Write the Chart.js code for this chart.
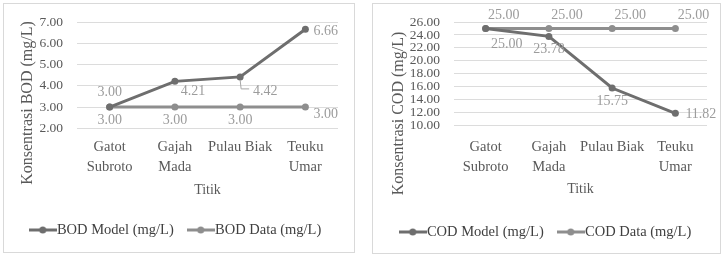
<!DOCTYPE html>
<html>
<head>
<meta charset="utf-8">
<script src="https://cdn.jsdelivr.net/npm/chart.js@4.4.1/dist/chart.umd.min.js"></script>
<style>
  body { margin: 0; background: #fff; width: 724px; height: 257px; position: relative; overflow: hidden; }
  canvas { position: absolute; top: 0; }
  .box { position: absolute; border: 1px solid #d9d9d9; pointer-events: none; }
</style>
</head>
<body>
<canvas id="bod" width="362" height="257" style="left:0"></canvas>
<canvas id="cod" width="362" height="257" style="left:362px"></canvas>
<div class="box" style="left:3px;top:3px;width:350px;height:248px"></div>
<div class="box" style="left:372px;top:3px;width:347px;height:249px"></div>
<script>
// data
const titik = [['Gatot', 'Subroto'], ['Gajah', 'Mada'], 'Pulau Biak', ['Teuku', 'Umar']];
const bodModel = [3.00, 4.21, 4.42, 6.66];
const bodData = [3.00, 3.00, 3.00, 3.00];
const codModel = [25.00, 23.78, 15.75, 11.82];
const codData = [25.00, 25.00, 25.00, 25.00];

// where each value label sits next to its point
const bodModelPos = ['above', 'belowRight', 'leader', 'right'];
const bodDataPos = ['below', 'below', 'below', 'rightLow'];
const codModelPos = ['belowRightFar', 'below', 'below', 'rightFar'];
const codDataPos = ['aboveRight', 'aboveRight', 'aboveRight', 'aboveRight'];

const modelColor = '#6e6e6e';
const dataColor = '#8e8e8e';
const textColor = '#595959';
const serif = '"Liberation Serif", "Times New Roman", serif';

Chart.defaults.font.family = serif;
Chart.defaults.color = textColor;

const place = {
  above: [0, -15, 'center'],
  below: [0, 13, 'center'],
  belowRight: [18, 10, 'center'],
  belowRightFar: [21, 16, 'center'],
  leader: [25, 14, 'center'],
  right: [8, 2, 'left'],
  rightLow: [8, 7, 'left'],
  rightFar: [10, 1, 'left'],
  aboveRight: [18, -13, 'center']
};

const pointLabels = {
  id: 'pointLabels',
  afterDatasetsDraw(chart) {
    const ctx = chart.ctx;
    ctx.save();
    ctx.font = '14px ' + serif;
    ctx.textBaseline = 'middle';
    chart.data.datasets.forEach((ds, i) => {
      chart.getDatasetMeta(i).data.forEach((pt, j) => {
        const [dx, dy, align] = place[ds.labelPos[j]];
        if (ds.labelPos[j] === 'leader') {
          ctx.strokeStyle = '#a6a6a6';
          ctx.lineWidth = 1;
          ctx.beginPath();
          ctx.moveTo(pt.x, pt.y + 3);
          ctx.lineTo(pt.x + 1, pt.y + dy - 2);
          ctx.lineTo(pt.x + 9, pt.y + dy - 2);
          ctx.stroke();
        }
        ctx.fillStyle = '#9c9c9c';
        ctx.textAlign = align;
        ctx.fillText(ds.data[j].toFixed(2), pt.x + dx, pt.y + dy);
      });
    });
    ctx.restore();
  }
};

// Excel-style axis title, centred lower than the plot area
const axisTitle = {
  id: 'axisTitle',
  afterDraw(chart, args, o) {
    const ctx = chart.ctx;
    ctx.save();
    ctx.translate(o.x, o.y);
    ctx.rotate(-Math.PI / 2);
    ctx.font = '16px ' + serif;
    ctx.fillStyle = textColor;
    ctx.textAlign = 'center';
    ctx.textBaseline = 'middle';
    ctx.fillText(o.text, 0, 0);
    ctx.restore();
  }
};

function legendMark(color) {
  const c = document.createElement('canvas');
  c.width = 28;
  c.height = 10;
  const g = c.getContext('2d');
  g.strokeStyle = color;
  g.lineWidth = 3;
  g.beginPath();
  g.moveTo(0, 5);
  g.lineTo(28, 5);
  g.stroke();
  g.fillStyle = color;
  g.beginPath();
  g.arc(14, 5, 3.5, 0, Math.PI * 2);
  g.fill();
  return c;
}

function buildChart(id, names, series, positions, s) {
  const colors = [modelColor, dataColor];
  return new Chart(document.getElementById(id), {
    type: 'line',
    data: {
      labels: titik,
      datasets: series.map((d, i) => ({
        label: names[i],
        data: d,
        labelPos: positions[i],
        borderColor: colors[i],
        backgroundColor: colors[i],
        borderWidth: 3,
        pointRadius: 3.5,
        pointBorderWidth: 0
      }))
    },
    options: {
      responsive: false,
      animation: false,
      layout: { padding: s.padding },
      scales: {
        x: {
          offset: true,
          grid: { display: false, drawTicks: false },
          border: { display: false },
          ticks: { color: textColor, font: { size: 14.5, lineHeight: 1.35 }, padding: s.xTickPad, maxRotation: 0, autoSkip: false },
          title: { display: true, text: 'Titik', color: textColor, font: { size: 14 }, padding: { top: 0, bottom: s.xTitlePad } },
          afterFit: sc => { sc.height = s.xHeight; sc.paddingRight = s.plotRight; }
        },
        y: {
          min: s.min,
          max: s.max,
          ticks: { stepSize: s.step, autoSkip: false, padding: 14, color: textColor, font: { size: 13.5 }, callback: v => v.toFixed(2) },
          grid: { color: '#dcdcdc', drawTicks: false },
          border: { display: false },
          afterFit: sc => { sc.width = s.yWidth; }
        }
      },
      plugins: {
        tooltip: { enabled: false },
        legend: {
          position: 'bottom',
          labels: {
            usePointStyle: true,
            pointStyleWidth: 14,
            padding: 20,
            color: '#404040',
            font: { size: 14.5 },
            generateLabels: chart => Chart.defaults.plugins.legend.labels.generateLabels(chart)
              .map((item, i) => Object.assign(item, { pointStyle: legendMark(colors[i]) }))
          }
        },
        axisTitle: s.title
      }
    },
    plugins: [pointLabels, axisTitle]
  });
}

buildChart('bod', ['BOD Model (mg/L)', 'BOD Data (mg/L)'], [bodModel, bodData], [bodModelPos, bodDataPos], {
  min: 2, max: 7, step: 1,
  padding: { left: 0, right: 5, top: 19, bottom: 9.75 },
  yWidth: 77, plotRight: 24, xHeight: 74.45, xTickPad: 9.2, xTitlePad: 4.35,
  title: { text: 'Konsentrasi BOD (mg/L)', x: 28, y: 103 }
});

buildChart('cod', ['COD Model (mg/L)', 'COD Data (mg/L)'], [codModel, codData], [codModelPos, codDataPos], {
  min: 10, max: 26, step: 2,
  padding: { left: 11, right: 0, top: 20, bottom: 7.75 },
  yWidth: 81, plotRight: 17, xHeight: 79.75, xTickPad: 12.5, xTitlePad: 7.35,
  title: { text: 'Konsentrasi COD (mg/L)', x: 37, y: 113.5 }
});
</script>
</body>
</html>
